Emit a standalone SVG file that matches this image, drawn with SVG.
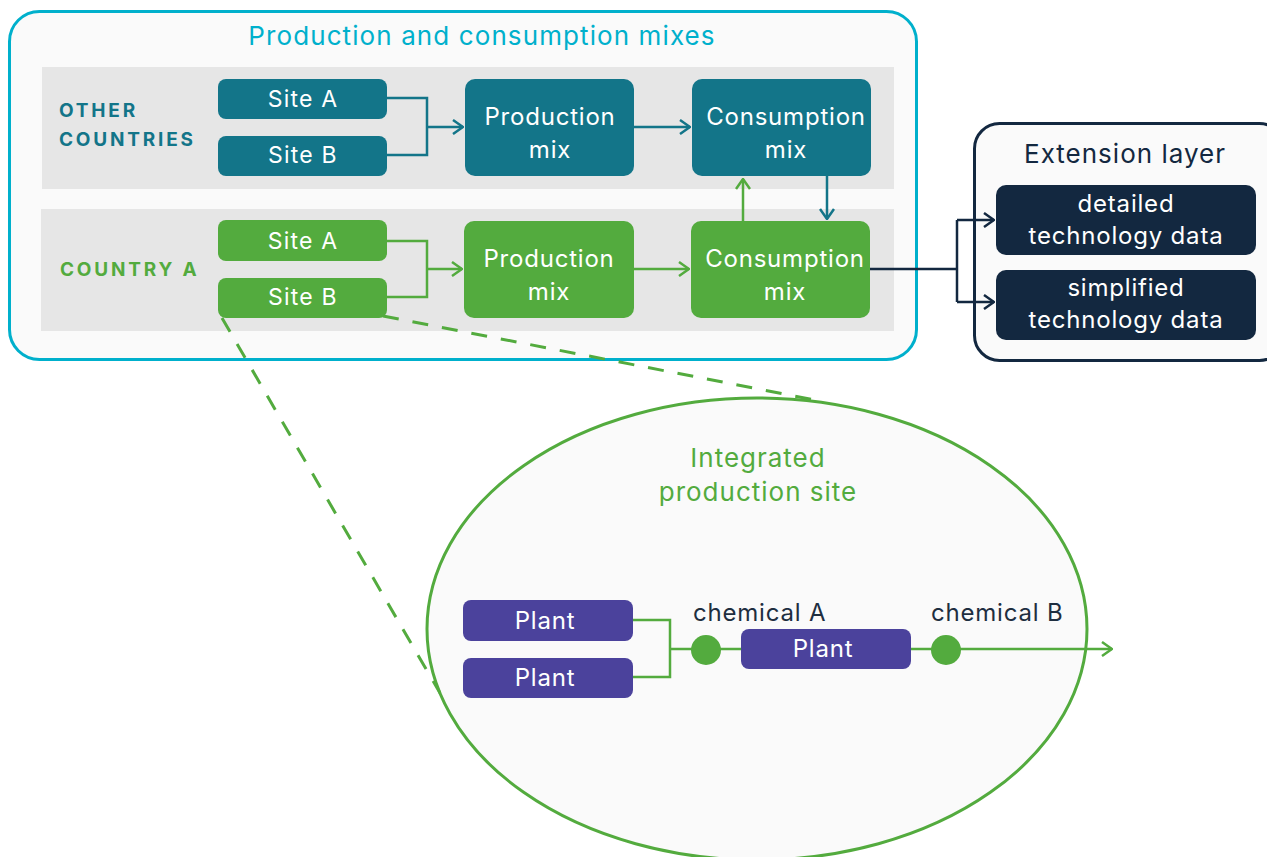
<svg xmlns="http://www.w3.org/2000/svg" width="1267" height="857" viewBox="0 0 1267 857">
<defs>
<style>
.t{font-family:Inter,"Noto Sans","Liberation Sans",sans-serif;text-anchor:middle}
.w{fill:#ffffff;font-size:24px;letter-spacing:0.8px}
.s{font-size:23px;letter-spacing:1.2px}
.teal{fill:#137589}
.green{fill:#53ab3e}
.navy{fill:#132840}
.purple{fill:#4b429c}
.c{fill:none;stroke-width:2.5}
.ct{stroke:#137589}
.cg{stroke:#53ab3e}
.cn{stroke:#132840}
.lab{font-family:Inter,"Noto Sans","Liberation Sans",sans-serif;font-size:19px;font-weight:bold;letter-spacing:2.8px}
.chem{font-family:Inter,"Noto Sans","Liberation Sans",sans-serif;font-size:24px;letter-spacing:0.8px;fill:#1e2e40}
</style>
<marker id="at" viewBox="0 0 12 16" refX="11" refY="8" markerWidth="12" markerHeight="16" markerUnits="userSpaceOnUse" orient="auto"><path d="M1,1 L11,8 L1,15" fill="none" stroke="#137589" stroke-width="2.5"/></marker>
<marker id="ag" viewBox="0 0 12 16" refX="11" refY="8" markerWidth="12" markerHeight="16" markerUnits="userSpaceOnUse" orient="auto"><path d="M1,1 L11,8 L1,15" fill="none" stroke="#53ab3e" stroke-width="2.5"/></marker>
<marker id="an" viewBox="0 0 12 16" refX="11" refY="8" markerWidth="12" markerHeight="16" markerUnits="userSpaceOnUse" orient="auto"><path d="M1,1 L11,8 L1,15" fill="none" stroke="#132840" stroke-width="2.5"/></marker>
</defs>
<rect width="1267" height="857" fill="#ffffff"/>

<g id="mixes-container">
<rect x="9.5" y="11.5" width="907" height="348" rx="30" fill="#fafafa" stroke="#00b0cc" stroke-width="3"/>
<text class="t" x="482" y="45" font-size="26" fill="#00b0cc" letter-spacing="1.1">Production and consumption mixes</text>
<rect x="42" y="67" width="852" height="122" fill="#e6e6e6"/>
<rect x="41" y="209" width="853" height="122" fill="#e6e6e6"/>
<text class="lab" x="59" y="117" fill="#137589">OTHER</text>
<text class="lab" x="59" y="146" fill="#137589">COUNTRIES</text>
<text class="lab" x="60" y="276" fill="#53ab3e">COUNTRY A</text>
</g>

<g id="extension-container">
<rect x="974.5" y="123.5" width="310" height="237" rx="25" fill="#fafafa" stroke="#132840" stroke-width="3"/>
<text class="t" x="1125" y="163" font-size="26" letter-spacing="1" fill="#132840">Extension layer</text>
</g>

<g id="integrated-site">
<ellipse cx="757" cy="629" rx="330" ry="231" fill="#fafafa" stroke="#53ab3e" stroke-width="3"/>
<text class="t" x="758" y="467" font-size="26" letter-spacing="1" fill="#53ab3e">Integrated</text>
<text class="t" x="758" y="501" font-size="26" letter-spacing="1" fill="#53ab3e">production site</text>
</g>

<g id="connectors">
<path class="c ct" d="M387,98 H427 V155 H387 M427,127 H463" marker-end="url(#at)"/>
<path class="c ct" d="M634,127 H690" marker-end="url(#at)"/>
<path class="c ct" d="M827,176 V219" marker-end="url(#at)"/>
<path class="c cg" d="M387,241 H427 V297 H387 M427,269 H462" marker-end="url(#ag)"/>
<path class="c cg" d="M634,269 H689" marker-end="url(#ag)"/>
<path class="c cg" d="M743,221 V179" marker-end="url(#ag)"/>
<path class="c cn" d="M870,269 H957"/>
<path class="c cn" d="M957,220 V302"/>
<path class="c cn" d="M957,220 H994" marker-end="url(#an)"/>
<path class="c cn" d="M957,302 H994" marker-end="url(#an)"/>
<path class="c cg" d="M633,620 H670 V677 H633 M670,649 H741"/>
<path class="c cg" d="M911,649 H1112" marker-end="url(#ag)"/>
<path fill="none" stroke="#53ab3e" stroke-width="3" stroke-dasharray="16 14" d="M222,318 L440,693"/>
<path fill="none" stroke="#53ab3e" stroke-width="3" stroke-dasharray="16 14" d="M383,316 L820,401"/>
</g>

<g id="other-site-a"><rect class="teal" x="218" y="79" width="169" height="40" rx="8"/><text class="t w s" x="303" y="107">Site A</text></g>
<g id="other-site-b"><rect class="teal" x="218" y="136" width="169" height="40" rx="8"/><text class="t w s" x="303" y="163">Site B</text></g>
<g id="other-production-mix"><rect class="teal" x="465" y="79" width="169" height="97" rx="10"/><text class="t w" x="550" y="125">Production</text><text class="t w" x="550" y="158">mix</text></g>
<g id="other-consumption-mix"><rect class="teal" x="692" y="79" width="179" height="97" rx="10"/><text class="t w" x="786" y="125">Consumption</text><text class="t w" x="786" y="158">mix</text></g>

<g id="a-site-a"><rect class="green" x="218" y="220" width="169" height="41" rx="8"/><text class="t w s" x="303" y="249">Site A</text></g>
<g id="a-site-b"><rect class="green" x="218" y="278" width="169" height="40" rx="8"/><text class="t w s" x="303" y="305">Site B</text></g>
<g id="a-production-mix"><rect class="green" x="464" y="221" width="170" height="97" rx="10"/><text class="t w" x="549" y="267">Production</text><text class="t w" x="549" y="300">mix</text></g>
<g id="a-consumption-mix"><rect class="green" x="691" y="221" width="179" height="97" rx="10"/><text class="t w" x="785" y="267">Consumption</text><text class="t w" x="785" y="300">mix</text></g>

<g id="detailed-data"><rect class="navy" x="996" y="185" width="260" height="70" rx="10"/><text class="t w" x="1126" y="212">detailed</text><text class="t w" x="1126" y="244">technology data</text></g>
<g id="simplified-data"><rect class="navy" x="996" y="270" width="260" height="70" rx="10"/><text class="t w" x="1126" y="296">simplified</text><text class="t w" x="1126" y="328">technology data</text></g>

<g id="plant-1"><rect class="purple" x="463" y="600" width="170" height="41" rx="8"/><text class="t w" x="545" y="629">Plant</text></g>
<g id="plant-2"><rect class="purple" x="463" y="658" width="170" height="40" rx="8"/><text class="t w" x="545" y="686">Plant</text></g>
<g id="plant-3"><rect class="purple" x="741" y="629" width="170" height="40" rx="8"/><text class="t w" x="823" y="657">Plant</text></g>
<g id="chemical-a"><circle cx="706" cy="650" r="15" fill="#53ab3e"/><text class="chem" x="693" y="621">chemical A</text></g>
<g id="chemical-b"><circle cx="946" cy="650" r="15" fill="#53ab3e"/><text class="chem" x="931" y="621">chemical B</text></g>
</svg>
